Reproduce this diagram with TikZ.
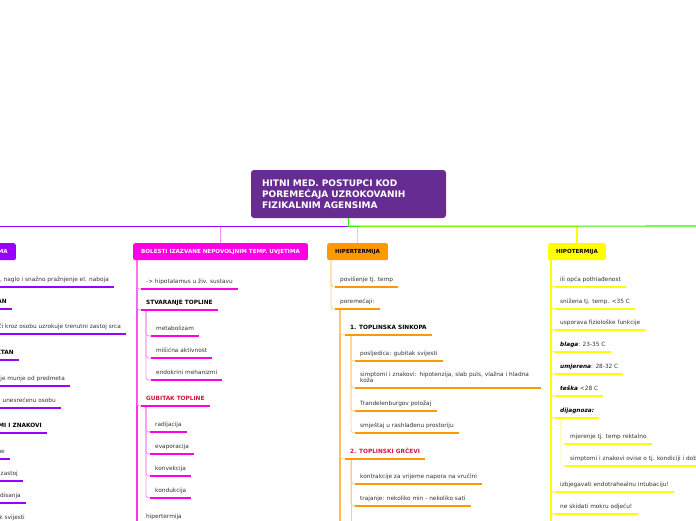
\documentclass[tikz,border=0pt]{standalone}
\usepackage{fontspec}
\setmainfont{DejaVu Sans}
\usetikzlibrary{calc}

\definecolor{hubpurple}{RGB}{102,44,145}
\definecolor{hviolet}{RGB}{153,0,255}
\definecolor{hpink}{RGB}{255,0,230}
\definecolor{hpinkl}{RGB}{255,140,245}
\definecolor{horange}{RGB}{255,153,0}
\definecolor{horangem}{RGB}{255,185,80}
\definecolor{horangel}{RGB}{255,205,140}
\definecolor{hyellow}{RGB}{255,255,0}
\definecolor{hyellowl}{RGB}{255,255,140}
\definecolor{hgreen}{RGB}{60,235,0}
\definecolor{hred}{RGB}{208,20,60}
\definecolor{txtgray}{RGB}{51,51,51}

\tikzset{
  hub/.style={fill=hubpurple, rounded corners=3pt, text=white, align=left,
    font=\bfseries\fontsize{9}{11}\selectfont, text width=173pt,
    inner xsep=11pt, minimum height=48pt},
  topic/.style={rounded corners=2pt, font=\bfseries\fontsize{5.6}{6.5}\selectfont,
    inner xsep=8pt, minimum height=17pt},
  leaf/.style={anchor=south west, inner xsep=5pt, inner ysep=4pt, text height=4pt,
    text depth=1.2pt, align=left, text=txtgray, font=\fontsize{5.8}{6.5}\selectfont},
  bar/.style={line width=2.7pt},
  lnk/.style={rounded corners=3pt, line width=0.8pt},
  trunk/.style={line width=1.1pt},
}

\begin{document}
\begin{tikzpicture}[x=1pt,y=-1pt]
  \useasboundingbox (0,0) rectangle (696,520);
  \clip (0,0) rectangle (696,520);

  \node[hub] (hub) at (348.5,194) {HITNI MED. POSTUPCI KOD\\POREMEĆAJA UZROKOVANIH\\FIZIKALNIM AGENSIMA};

  \node[topic, fill=hviolet, text=white, anchor=north east] (grom) at (16,243) {OZLJEDE UZROKOVANE UDAROM GROMA};
  \node[topic, fill=hpink, text=white, anchor=north west] (bol) at (133,243) {BOLESTI IZAZVANE NEPOVOLJNIM TEMP. UVJETIMA};
  \node[topic, fill=horange, anchor=north west] (hiper) at (327,243) {HIPERTERMIJA};
  \node[topic, fill=hyellow, anchor=north west] (hipo) at (548,243) {HIPOTERMIJA};
  \coordinate (rest) at (730,226);

  % grane od glavnog cvora
  \draw[trunk, draw=hpinkl] (hub.south) -- ++(0,8) -| (bol.north);
  \draw[trunk, draw=horangel] (hub.south) -- ++(0,8) -| (hiper.north);
  \draw[trunk, draw=hyellow] (hub.south) -- ++(0,8) -| (hipo.north);
  \draw[trunk, draw=hviolet] (hub.south) -- ++(0,8) -| (grom.north);
  \draw[trunk, draw=hgreen] (hub.south) -- ++(0,8) -- (rest);

  % udar groma
  \foreach \n/\x/\y/\txt in {
    g1/114/287/{munja: kratko, naglo i snažno pražnjenje el. naboja},
    g2/12/309/{\textcolor{black}{\textbf{IZRAVAN}}},
    g3/126/334/{struja prolazeći kroz osobu uzrokuje trenutni zastoj srca},
    g4/19/360/{\textcolor{black}{\textbf{KONTAKTAN}}},
    g5/70/386/{odbijanje munje od predmeta},
    g6/61/408/{prijenos na unesrećenu osobu},
    g7/47/433/{\textcolor{black}{\textbf{SIMPTOMI I ZNAKOVI}}},
    g71/10/459/{opekline},
    g72/23/481/{srčani zastoj},
    g73/26/503/{zastoj disanja},
    g74/30/525/{gubitak svijesti}}
    \node[leaf, anchor=south east] (\n) at (\x,\y) {\txt};
  \coordinate (gs) at ($(grom.south west)+(4,0)$);
  \coordinate (g7s) at ($(g7.south west)+(5,0)$);
  \foreach \n in {g1,g2,g3,g4,g5,g6,g7}
    \draw[lnk, hviolet] (gs) |- (\n.south west);
  \foreach \n in {g71,g72,g73,g74}
    \draw[lnk, hviolet!40] (g7s) |- (\n.south west);
  \foreach \n in {g1,g2,g3,g4,g5,g6,g7,g71,g72,g73,g74}
    \draw[bar, hviolet] (\n.south west) -- (\n.south east);

  % bolesti izazvane nepovoljnim temp. uvjetima
  \foreach \n/\x/\y/\txt in {
    p1/141/289/{-> hipotalamus u živ. sustavu},
    p2/141/310/{\textcolor{black}{\textbf{STVARANJE TOPLINE}}},
    p21/151/336/{metabolizam},
    p22/151/358/{mišićna aktivnost},
    p23/151/380/{endokrini mehanizmi},
    p3/141/406/{\textcolor{hred}{\textbf{GUBITAK TOPLINE}}},
    p31/150/432/{radijacija},
    p32/150/454/{evaporacija},
    p33/150/476/{konvekcija},
    p34/150/498/{kondukcija},
    p4/141/524/{hipertermija}}
    \node[leaf] (\n) at (\x,\y) {\txt};
  \coordinate (ps) at ($(bol.south west)+(4,0)$);
  \coordinate (p2s) at ($(p2.south west)+(5,0)$);
  \coordinate (p3s) at ($(p3.south west)+(5,0)$);
  \draw[lnk, hpink, line width=1.3pt] (ps) -- (ps |- p4.south);
  \foreach \n in {p1,p2,p3,p4}
    \draw[lnk, hpinkl] (ps) |- (\n.south west);
  \foreach \n in {p21,p22,p23}
    \draw[lnk, hpinkl] (p2s) |- (\n.south west);
  \foreach \n in {p31,p32,p33,p34}
    \draw[lnk, hpinkl] (p3s) |- (\n.south west);
  \foreach \n in {p1,p2,p21,p22,p23,p3,p31,p32,p33,p34,p4}
    \draw[bar, hpink] (\n.south west) -- (\n.south east);

  % hipertermija
  \foreach \n/\x/\y/\txt in {
    o1/335/287/{povišenje tj. temp},
    o2/335/309/{poremećaji:},
    o21/345/335/{\textcolor{black}{\textbf{1. TOPLINSKA SINKOPA}}},
    o211/355/361/{posljedica: gubitak svijesti},
    o213/355/411/{Trandelenburgov položaj},
    o214/355/433/{smještaj u rashlađenu prostoriju},
    o22/345/459/{\textcolor{hred}{\textbf{2. TOPLINSKI GRČEVI}}},
    o221/355/484/{kontrakcije za vrijeme napora na vrućini},
    o222/355/506/{trajanje: nekoliko min - nekoliko sati}}
    \node[leaf] (\n) at (\x,\y) {\txt};
  \node[leaf, text width=176pt, text depth=7.7pt] (o212) at (355,388) {simptomi i znakovi: hipotenzija, slab puls, vlažna i hladna\\koža};
  \coordinate (os) at ($(hiper.south west)+(4,0)$);
  \coordinate (o2s) at ($(o2.south west)+(5,0)$);
  \coordinate (o21s) at ($(o21.south west)+(6,0)$);
  \coordinate (o22s) at ($(o22.south west)+(6,0)$);
  \coordinate (oend) at (340,530);
  \coordinate (o22end) at (351,530);
  \foreach \n in {o1,o2}
    \draw[lnk, horangel] (os) |- (\n.south west);
  \draw[lnk, horangem, line width=1.2pt] (o2s) -- (oend);
  \foreach \n in {o21,o22}
    \draw[lnk, horangel] (o2s) |- (\n.south west);
  \foreach \n in {o211,o212,o213,o214}
    \draw[lnk, horangel] (o21s) |- (\n.south west);
  \foreach \n in {o221,o222}
    \draw[lnk, horangel] (o22s) |- (\n.south west);
  \draw[lnk, horangel] (o22s) -- (o22end);
  \foreach \n in {o1,o2,o21,o211,o212,o213,o214,o22,o221,o222}
    \draw[bar, horange] (\n.south west) -- (\n.south east);

  % hipotermija
  \foreach \n/\x/\y/\txt in {
    y1/555/287/{ili opća pothlađenost},
    y2/555/309/{snižena tj. temp. <35 C},
    y3/555/330/{usporava fiziološke funkcije},
    y4/555/352/{\textcolor{black}{\textbf{\textit{blaga}}}: 23-35 C},
    y5/555/374/{\textcolor{black}{\textbf{\textit{umjerena}}}: 28-32 C},
    y6/555/396/{\textcolor{black}{\textbf{\textit{teška}}} <28 C},
    y7/555/418/{\textcolor{black}{\textbf{\textit{dijagnoza:}}}},
    y71/565/444/{mjerenje tj. temp rektalno},
    y72/565/466/{simptomi i znakovi ovise o tj. kondiciji i dobi},
    y8/555/492/{izbjegavati endotrahealnu intubaciju!},
    y9/555/514/{ne skidati mokru odjeću!}}
    \node[leaf] (\n) at (\x,\y) {\txt};
  \coordinate (ys) at ($(hipo.south west)+(3,0)$);
  \coordinate (y7s) at ($(y7.south west)+(6,0)$);
  \coordinate (yend) at (551,530);
  \draw[lnk, hyellow, line width=1.3pt] (ys) -- (yend);
  \foreach \n in {y1,y2,y3,y4,y5,y6,y7,y8,y9}
    \draw[lnk, hyellow] (ys) |- (\n.south west);
  \foreach \n in {y71,y72}
    \draw[lnk, hyellowl] (y7s) |- (\n.south west);
  \foreach \n in {y1,y2,y3,y4,y5,y6,y7,y71,y72,y8,y9}
    \draw[bar, hyellow] (\n.south west) -- (\n.south east);
\end{tikzpicture}
\end{document}
